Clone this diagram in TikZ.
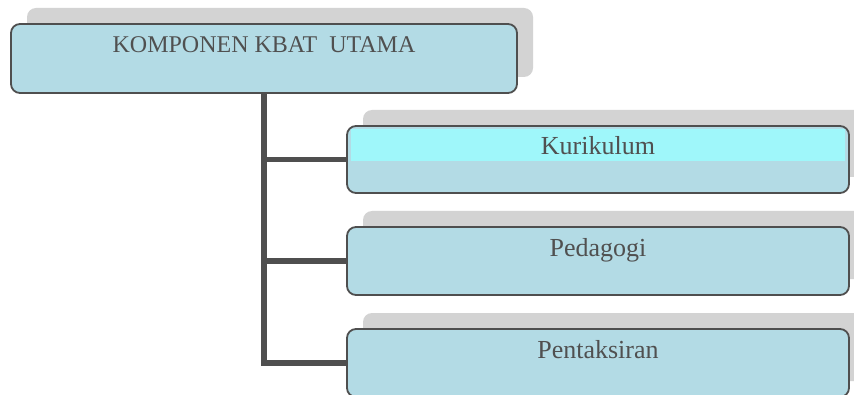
\documentclass[tikz,border=0pt]{standalone}
\usepackage{fontspec}
\setmainfont{Liberation Serif}
\usetikzlibrary{shadows}
\definecolor{boxfill}{HTML}{B3DBE5}
\definecolor{hlcyan}{HTML}{9FF7FA}
\definecolor{shadowgray}{HTML}{D3D3D3}
\definecolor{edgegray}{HTML}{4F4F4F}
\definecolor{txtgray}{HTML}{505050}
\tikzset{
  boxnode/.style n args={3}{draw=edgegray, line width=1.8pt, fill=boxfill,
    rounded corners=9pt, minimum width=#1, inner xsep=0pt, inner ysep=0pt,
    text height=29pt, text depth=#2, text=txtgray,
    font=\fontsize{#3}{#3}\selectfont,
    general shadow={fill=shadowgray, shadow xshift=16pt, shadow yshift=16pt}},
  conn/.style={draw=edgegray, line width=5.5pt, line join=miter, line cap=butt},
  highlight/.style={path picture={\fill[hlcyan, sharp corners]
    ([xshift=4pt,yshift=-3pt]path picture bounding box.north west) rectangle
    ([xshift=-4pt,yshift=-35pt]path picture bounding box.north east);}}
}
\begin{document}
\begin{tikzpicture}[x=1pt,y=1pt]
\useasboundingbox (0,0) rectangle (854,394);
\begin{scope}
\clip (0,0) rectangle (854,394);
\node[boxnode={506pt}{40pt}{24}] (top) at (264,335.5) {KOMPONEN KBAT~~UTAMA};
\node[boxnode={502pt}{38pt}{26}, highlight] (kur) at (598,234.5) {Kurikulum};
\node[boxnode={502pt}{39pt}{26}] (ped) at (598,133) {Pedagogi};
\node[boxnode={502pt}{39pt}{26}] (pen) at (598,31) {Pentaksiran};
\draw[conn] (top.south) |- (pen.west);
\draw[conn] (top.south |- kur.west) -- (kur.west);
\draw[conn] (top.south |- ped.west) -- (ped.west);
\end{scope}
\end{tikzpicture}
\end{document}
